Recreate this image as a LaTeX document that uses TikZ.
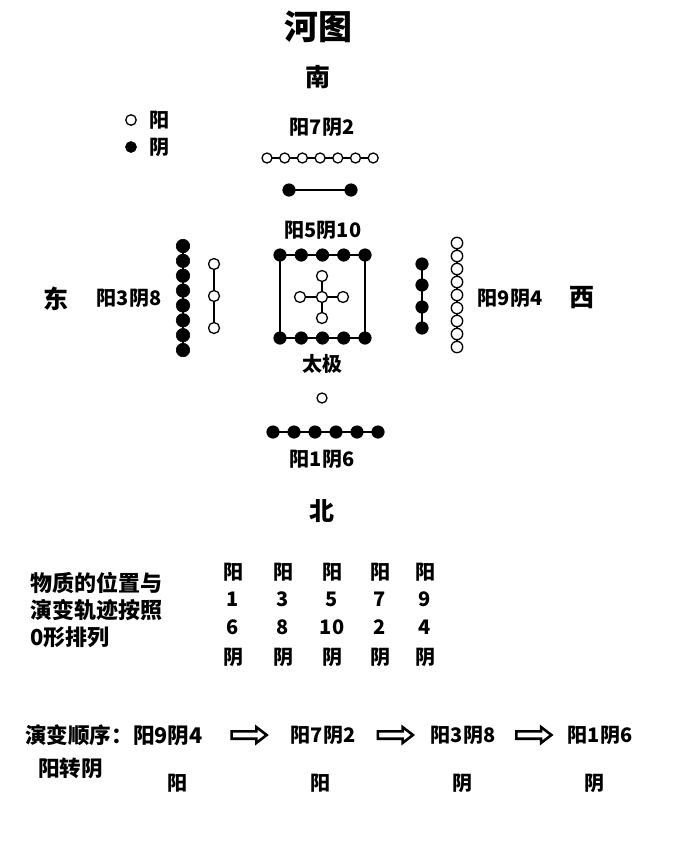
\documentclass[tikz,border=0pt]{standalone}
\usepackage{fontspec}
\setmainfont{Noto Sans CJK SC}
\usetikzlibrary{positioning, calc, shapes.arrows, backgrounds}
\tikzset{
  yang/.style={circle, draw=black, fill=white, line width=1.3pt, inner sep=0pt, minimum size=10pt},
  yin/.style={circle, draw=black, fill=black, line width=0.6pt, inner sep=0pt, minimum size=12.5pt},
  link/.style={line width=1.3pt, draw=black},
  label/.style={font=\bfseries\fontsize{20}{27}\selectfont, inner sep=0pt},
  biglabel/.style={font=\bfseries\fontsize{21.6}{27}\selectfont, inner sep=0pt},
  title/.style={font=\bfseries\fontsize{34}{38}\selectfont, inner sep=0pt},
  dir/.style={font=\bfseries\fontsize{25}{28}\selectfont, inner sep=0pt},
  flow/.style={single arrow, draw=black, fill=white, line width=2.6pt,
    inner sep=2.4pt, minimum height=35pt, single arrow head extend=4.2pt,
    single arrow tip angle=75, shape border rotate=0},
}
\begin{document}
\begin{tikzpicture}[x=1pt, y=-1pt]
  \useasboundingbox (0,0) rectangle (698,863);

  % title and the four directions
  \node[title] (hetu) at (318,27) {河图};
  \node[dir] (nan) at (318,77) {南};
  \node[dir] (bei) at (322,511) {北};
  \node[dir] (dong) at (56,299) {东};
  \node[dir] (xi) at (582,298) {西};

  % legend
  \node[yang, minimum size=10.5pt] (keyyang) at (131,120) {};
  \node[label, right=12pt of keyyang] (keyyangtxt) {阳};
  \node[yin, minimum size=11pt] (keyyin) at (131,147) {};
  \node[label, right=12pt of keyyin] (keyyintxt) {阴};

  % south
  \node[label] (southtxt) at (322,127) {阳7阴2};
  \foreach \i in {1,...,7}
    \node[yang] (s\i) at ({267+17.7*(\i-1)},158) {};
  \node[yin] (sa) at (289,190) {};
  \node[yin] (sb) at (351,190) {};

  % east
  \node[label] (easttxt) at (129,298) {阳3阴8};
  \foreach \i in {1,...,8}
    \node[yin, minimum size=13.5pt] (e\i) at (183,{246+14.86*(\i-1)}) {};
  \foreach \i/\y in {1/264, 2/296, 3/328}
    \node[yang, minimum size=11pt] (ea\i) at (214,\y) {};

  % west
  \node[label] (westtxt) at (510,298) {阳9阴4};
  \foreach \i/\y in {1/264, 2/285, 3/307, 4/328}
    \node[yin] (wa\i) at (422,\y) {};
  \foreach \i in {1,...,9}
    \node[yang, minimum size=11.4pt] (w\i) at (457,{243+13*(\i-1)}) {};

  % centre
  \node[label] (centretxt) at (323,230) {阳5阴10};
  \foreach \i in {1,...,5} {
    \node[yin] (ct\i) at ({280+21.25*(\i-1)},255) {};
    \node[yin] (cb\i) at ({280+21.25*(\i-1)},338) {};
  }
  \node[yang, minimum size=11pt] (c0) at (322,297) {};
  \node[yang, minimum size=11pt] (cn) at (322,276) {};
  \node[yang, minimum size=11pt] (cs) at (322,318) {};
  \node[yang, minimum size=11pt] (cw) at (300,297) {};
  \node[yang, minimum size=11pt] (ce) at (343,297) {};
  \node[label] (taiji) at (322,364) {太极};

  % north
  \node[yang, minimum size=10pt] (n0) at (322,398) {};
  \foreach \i in {1,...,6}
    \node[yin] (n\i) at ({273+21*(\i-1)},432) {};
  \node[label] (northtxt) at (322,459) {阳1阴6};

  \begin{scope}[on background layer]
    \fill[white] (0,0) rectangle (698,863);
    \draw[link] (s1.center) -- (s7.center);
    \draw[link] (sa.center) -- (sb.center);
    \draw[link] (e1.center) -- (e8.center);
    \draw[link] (ea1.center) -- (ea3.center);
    \draw[link] (wa1.center) -- (wa4.center);
    \draw[link] (w1.center) -- (w9.center);
    \draw[link] (ct1.center) -- (ct5.center) -- (cb5.center) -- (cb1.center) -- cycle;
    \draw[link] (cn.center) -- (cs.center);
    \draw[link] (cw.center) -- (ce.center);
    \draw[link] (n1.center) -- (n6.center);
  \end{scope}

  % table of numbers
  \node[biglabel, font=\bfseries\fontsize{22}{27}\selectfont, anchor=west, align=left] (matter) at (30,610)
    {物质的位置与\\演变轨迹按照\\0形排列};
  \foreach \x/\a/\b [count=\k] in {233/1/6, 283/3/8, 332/5/10, 380/7/2, 425/9/4} {
    \node[label] (tyang\k) at (\x,572) {阳};
    \node[label] (tnuma\k) at (\x,599) {\a};
    \node[label] (tnumb\k) at (\x,627) {\b};
    \node[label] (tyin\k) at (\x,657) {阴};
  }

  % order of change
  \node[biglabel, anchor=west] (seq1) at (25,735) {演变顺序：阳9阴4};
  \node[label] (seq2) at (323,735) {阳7阴2};
  \node[label] (seq3) at (463,735) {阳3阴8};
  \node[label] (seq4) at (600,735) {阳1阴6};
  \node[flow] (f1) at ($(seq1.east)!0.5!(seq2.west)$) {};
  \node[flow] (f2) at ($(seq2.east)!0.5!(seq3.west)$) {};
  \node[flow] (f3) at ($(seq3.east)!0.5!(seq4.west)$) {};

  \node[biglabel, anchor=west] (turn) at (38,768) {阳转阴};
  \node[label] (r1) at (177,783) {阳};
  \node[label] (r2) at (320,783) {阳};
  \node[label] (r3) at (462,783) {阴};
  \node[label] (r4) at (594,783) {阴};
\end{tikzpicture}
\end{document}
